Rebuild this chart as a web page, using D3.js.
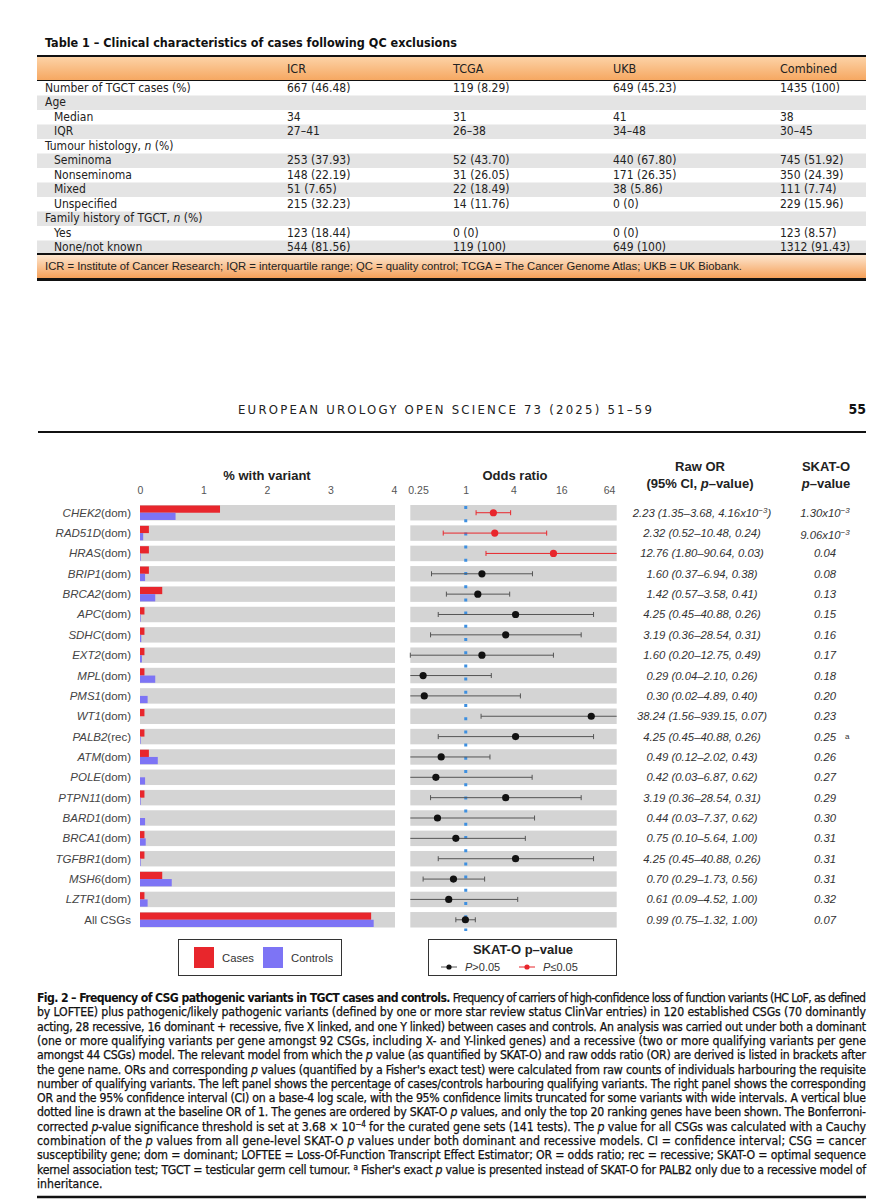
<!DOCTYPE html>
<html><head><meta charset="utf-8">
<script src="https://cdn.jsdelivr.net/npm/d3@7"></script>
<style>body{margin:0;background:#fff}svg{display:block}</style>
</head><body><svg id="c" width="894" height="1200"></svg>
<script>
// ---------- Table data ----------
const tableTitle = "Table 1 – Clinical characteristics of cases following QC exclusions";
const tableColumns = ["ICR", "TCGA", "UKB", "Combined"];
const tableRowLabels = ["Number of TGCT cases (%)", "Age", "Median", "IQR", "Tumour histology, *n* (%)", "Seminoma", "Nonseminoma", "Mixed", "Unspecified", "Family history of TGCT, *n* (%)", "Yes", "None/not known"];
const tableRowIndent = [0, 0, 1, 1, 0, 1, 1, 1, 1, 0, 1, 1];
const tableICR = ["667 (46.48)", "", "34", "27–41", "", "253 (37.93)", "148 (22.19)", "51 (7.65)", "215 (32.23)", "", "123 (18.44)", "544 (81.56)"];
const tableTCGA = ["119 (8.29)", "", "31", "26–38", "", "52 (43.70)", "31 (26.05)", "22 (18.49)", "14 (11.76)", "", "0 (0)", "119 (100)"];
const tableUKB = ["649 (45.23)", "", "41", "34–48", "", "440 (67.80)", "171 (26.35)", "38 (5.86)", "0 (0)", "", "0 (0)", "649 (100)"];
const tableCombined = ["1435 (100)", "", "38", "30–45", "", "745 (51.92)", "350 (24.39)", "111 (7.74)", "229 (15.96)", "", "123 (8.57)", "1312 (91.43)"];
const tableFooter = "ICR = Institute of Cancer Research; IQR = interquartile range; QC = quality control; TCGA = The Cancer Genome Atlas; UKB = UK Biobank.";

// ---------- Figure data ----------
const genes = ["CHEK2", "RAD51D", "HRAS", "BRIP1", "BRCA2", "APC", "SDHC", "EXT2", "MPL", "PMS1", "WT1", "PALB2", "ATM", "POLE", "PTPN11", "BARD1", "BRCA1", "TGFBR1", "MSH6", "LZTR1", "All CSGs"];
const models = ["dom", "dom", "dom", "dom", "dom", "dom", "dom", "dom", "dom", "dom", "dom", "rec", "dom", "dom", "dom", "dom", "dom", "dom", "dom", "dom", ""];
const casesPct = [1.26, 0.14, 0.14, 0.14, 0.35, 0.07, 0.07, 0.07, 0.07, 0, 0.07, 0.07, 0.14, 0, 0.07, 0, 0.07, 0.07, 0.35, 0.07, 3.64];
const controlsPct = [0.56, 0.05, 0.01, 0.08, 0.24, 0.01, 0.02, 0.03, 0.24, 0.12, 0, 0.01, 0.28, 0.08, 0.01, 0.08, 0.09, 0.01, 0.50, 0.12, 3.68];
const oddsRatio = [2.23, 2.32, 12.76, 1.60, 1.42, 4.25, 3.19, 1.60, 0.29, 0.30, 38.24, 4.25, 0.49, 0.42, 3.19, 0.44, 0.75, 4.25, 0.70, 0.61, 0.99];
const ciLow = [1.35, 0.52, 1.80, 0.37, 0.57, 0.45, 0.36, 0.20, 0.04, 0.02, 1.56, 0.45, 0.12, 0.03, 0.36, 0.03, 0.10, 0.45, 0.29, 0.09, 0.75];
const ciHigh = [3.68, 10.48, 90.64, 6.94, 3.58, 40.88, 28.54, 12.75, 2.10, 4.89, 939.15, 40.88, 2.02, 6.87, 28.54, 7.37, 5.64, 40.88, 1.73, 4.52, 1.32];
const fisherP = [4.16e-3, 0.24, 0.03, 0.38, 0.41, 0.26, 0.31, 0.49, 0.26, 0.40, 0.07, 0.26, 0.43, 0.62, 0.31, 0.62, 1.00, 0.26, 0.56, 1.00, 1.00];
const skatoP = [1.30e-3, 9.06e-3, 0.04, 0.08, 0.13, 0.15, 0.16, 0.17, 0.18, 0.20, 0.23, 0.25, 0.26, 0.27, 0.29, 0.30, 0.31, 0.31, 0.31, 0.32, 0.07];
const skatoNote = ["", "", "", "", "", "", "", "", "", "", "", "a", "", "", "", "", "", "", "", "", ""];
const pctTicks = [0, 1, 2, 3, 4];
const orTicks = [0.25, 1, 4, 16, 64];

const captionLines = [
 "**Fig. 2 – Frequency of CSG pathogenic variants in TGCT cases and controls.** Frequency of carriers of high-confidence loss of function variants (HC LoF, as defined",
 "by LOFTEE) plus pathogenic/likely pathogenic variants (defined by one or more star review status ClinVar entries) in 120 established CSGs (70 dominantly",
 "acting, 28 recessive, 16 dominant + recessive, five X linked, and one Y linked) between cases and controls. An analysis was carried out under both a dominant",
 "(one or more qualifying variants per gene amongst 92 CSGs, including X- and Y-linked genes) and a recessive (two or more qualifying variants per gene",
 "amongst 44 CSGs) model. The relevant model from which the *p* value (as quantified by SKAT-O) and raw odds ratio (OR) are derived is listed in brackets after",
 "the gene name. ORs and corresponding *p* values (quantified by a Fisher's exact test) were calculated from raw counts of individuals harbouring the requisite",
 "number of qualifying variants. The left panel shows the percentage of cases/controls harbouring qualifying variants. The right panel shows the corresponding",
 "OR and the 95% confidence interval (CI) on a base-4 log scale, with the 95% confidence limits truncated for some variants with wide intervals. A vertical blue",
 "dotted line is drawn at the baseline OR of 1. The genes are ordered by SKAT-O *p* values, and only the top 20 ranking genes have been shown. The Bonferroni-",
 "corrected *p*-value significance threshold is set at 3.68 × 10^−4^ for the curated gene sets (141 tests). The *p* value for all CSGs was calculated with a Cauchy",
 "combination of the *p* values from all gene-level SKAT-O *p* values under both dominant and recessive models. CI = confidence interval; CSG = cancer",
 "susceptibility gene; dom = dominant; LOFTEE = Loss-Of-Function Transcript Effect Estimator; OR = odds ratio; rec = recessive; SKAT-O = optimal sequence",
 "kernel association test; TGCT = testicular germ cell tumour. ^a^ Fisher's exact *p* value is presented instead of SKAT-O for PALB2 only due to a recessive model of",
 "inheritance."
];

// ---------- helpers ----------
const NARROW = "'Liberation Sans Narrow','DejaVu Sans Condensed','Roboto Condensed','Liberation Sans',sans-serif";
const SANS = "'Liberation Sans',Arial,Helvetica,sans-serif";
const svg = d3.select("#c");
svg.append("rect").attr("width", 894).attr("height", 1200).attr("fill", "#fff");

function rich(textSel, s, supSize) {
  const parts = s.split(/(\*\*[^*]+\*\*|\*[^*]+\*|\^[^^]+\^)/).filter(p => p.length);
  let raised = false;
  parts.forEach(p => {
    const t = textSel.append("tspan");
    if (p.startsWith("**")) { t.text(p.slice(2, -2)).attr("font-weight", "bold").attr("stroke", "none"); }
    else if (p.startsWith("*")) { t.text(p.slice(1, -1)).attr("font-style", "italic"); }
    else if (p.startsWith("^")) { t.text(p.slice(1, -1)).attr("font-size", supSize).attr("dy", -4); raised = true; return; }
    else { t.text(p); }
    if (raised) { t.attr("dy", 4); raised = false; }
  });
}

// ---------- Table ----------
const tL = 37, tR = 866;
const defs = svg.append("defs");
const g1 = defs.append("linearGradient").attr("id", "hdr").attr("x1", 0).attr("y1", 0).attr("x2", 0).attr("y2", 1);
g1.append("stop").attr("offset", "0%").attr("stop-color", "#fcd2a6");
g1.append("stop").attr("offset", "100%").attr("stop-color", "#f6a862");
const g2 = defs.append("linearGradient").attr("id", "ftr").attr("x1", 0).attr("y1", 0).attr("x2", 0).attr("y2", 1);
g2.append("stop").attr("offset", "0%").attr("stop-color", "#fde6cf");
g2.append("stop").attr("offset", "100%").attr("stop-color", "#f5a059");

svg.append("text").attr("x", 45).attr("y", 47).attr("font-family", NARROW).attr("font-weight", "bold")
  .attr("font-size", 12.5).attr("fill", "#111").text(tableTitle);
svg.append("rect").attr("x", tL).attr("y", 57).attr("width", tR - tL).attr("height", 23).attr("fill", "url(#hdr)");
svg.append("line").attr("x1", tL).attr("x2", tR).attr("y1", 56).attr("y2", 56).attr("stroke", "#111").attr("stroke-width", 2.2);
svg.append("line").attr("x1", tL).attr("x2", tR).attr("y1", 80.5).attr("y2", 80.5).attr("stroke", "#111").attr("stroke-width", 1.2);
const colX = [287, 453, 613, 780];
tableColumns.forEach((c, i) => svg.append("text").attr("x", colX[i]).attr("y", 73).attr("font-family", NARROW)
  .attr("font-size", 12.5).attr("fill", "#222").text(c));
const rowH = 14.5, row0 = 81;
const colData = [tableICR, tableTCGA, tableUKB, tableCombined];
tableRowLabels.forEach((lab, i) => {
  const y = row0 + i * rowH;
  if (i % 2 === 1) svg.append("rect").attr("x", tL).attr("y", y).attr("width", tR - tL).attr("height", rowH).attr("fill", "#e4e4e4");
  const t = svg.append("text").attr("x", 45 + tableRowIndent[i] * 9).attr("y", y + 10.8).attr("font-family", NARROW)
    .attr("font-size", 12).attr("fill", "#222");
  rich(t, lab, 8);
  colData.forEach((col, j) => svg.append("text").attr("x", colX[j]).attr("y", y + 10.8).attr("font-family", NARROW)
    .attr("font-size", 12).attr("fill", "#222").text(col[i]));
});
svg.append("line").attr("x1", tL).attr("x2", tR).attr("y1", 254).attr("y2", 254).attr("stroke", "#111").attr("stroke-width", 2);
svg.append("rect").attr("x", tL).attr("y", 255).attr("width", tR - tL).attr("height", 23).attr("fill", "url(#ftr)");
svg.append("line").attr("x1", tL).attr("x2", tR).attr("y1", 279.5).attr("y2", 279.5).attr("stroke", "#111").attr("stroke-width", 3);
svg.append("text").attr("x", 45).attr("y", 270).attr("font-family", SANS).attr("font-size", 10.6).attr("fill", "#222")
  .attr("textLength", 697).attr("lengthAdjust", "spacingAndGlyphs").text(tableFooter);

// ---------- Page header ----------
svg.append("text").attr("x", 238).attr("y", 414).attr("font-family", NARROW).attr("font-size", 13).attr("fill", "#222")
  .attr("textLength", 414).attr("lengthAdjust", "spacing").text("EUROPEAN UROLOGY OPEN SCIENCE 73 (2025) 51–59");
svg.append("text").attr("x", 866).attr("y", 414).attr("text-anchor", "end").attr("font-family", NARROW)
  .attr("font-weight", "bold").attr("font-size", 14).attr("fill", "#111").text("55");
svg.append("line").attr("x1", 38).attr("x2", 866).attr("y1", 432).attr("y2", 432).attr("stroke", "#111").attr("stroke-width", 2);

// ---------- Figure ----------
const y = d3.scaleBand().domain(genes).range([505, 927.5]).paddingInner(0.24).paddingOuter(0);
const xPct = d3.scaleLinear().domain([0, 4]).range([140, 394]);
const xOR = d3.scaleLog().base(4).domain([0.25, 64]).range([418, 609]);
const orMin = 0.2, orMax = 80;
const txt = "#333";
const red = "#e8262c", blue = "#7d74f5", band = "#d4d4d4";

// left panel
svg.append("text").attr("x", 267).attr("y", 480).attr("text-anchor", "middle").attr("font-family", SANS)
  .attr("font-weight", "bold").attr("font-size", 13).attr("fill", "#222").text("% with variant");
const axL = d3.axisTop(xPct).tickValues(pctTicks).tickSize(0).tickFormat(d3.format("d"));
const gAxL = svg.append("g").attr("transform", "translate(0,494)").call(axL);
gAxL.select(".domain").remove();
gAxL.selectAll("text").attr("font-family", SANS).attr("font-size", 10.5).attr("fill", "#555").attr("dy", 0).attr("y", 0);

const rows = genes.map((g, i) => ({ g, i }));
svg.append("g").selectAll("rect").data(rows).join("rect")
  .attr("x", xPct(0)).attr("y", d => y(d.g)).attr("width", xPct(4) - xPct(0) + 1).attr("height", y.bandwidth()).attr("fill", band);
const half = y.bandwidth() / 2;
svg.append("g").selectAll("rect").data(rows).join("rect")
  .attr("x", xPct(0)).attr("y", d => y(d.g) + 0.5).attr("width", d => xPct(casesPct[d.i]) - xPct(0)).attr("height", half - 0.5).attr("fill", red);
svg.append("g").selectAll("rect").data(rows).join("rect")
  .attr("x", xPct(0)).attr("y", d => y(d.g) + half).attr("width", d => xPct(controlsPct[d.i]) - xPct(0)).attr("height", half - 0.5).attr("fill", blue);

// gene labels
rows.forEach(d => {
  const t = svg.append("text").attr("x", 131).attr("y", y(d.g) + half + 4).attr("text-anchor", "end")
    .attr("font-family", SANS).attr("font-size", 11.5).attr("fill", "#444");
  if (models[d.i]) { t.append("tspan").attr("font-style", "italic").text(d.g); t.append("tspan").text("(" + models[d.i] + ")"); }
  else t.text(d.g);
});

// right panel
svg.append("text").attr("x", 515).attr("y", 480).attr("text-anchor", "middle").attr("font-family", SANS)
  .attr("font-weight", "bold").attr("font-size", 13).attr("fill", "#222").text("Odds ratio");
const axR = d3.axisTop(xOR).tickValues(orTicks).tickSize(0).tickFormat(d => d === 0.25 ? "0.25" : d3.format("d")(d));
const gAxR = svg.append("g").attr("transform", "translate(0,494)").call(axR);
gAxR.select(".domain").remove();
gAxR.selectAll("text").attr("font-family", SANS).attr("font-size", 10.5).attr("fill", "#555").attr("dy", 0).attr("y", 0);

svg.append("g").selectAll("rect").data(rows).join("rect")
  .attr("x", xOR(orMin)).attr("y", d => y(d.g)).attr("width", xOR(orMax) - xOR(orMin)).attr("height", y.bandwidth()).attr("fill", band);
// baseline OR = 1
svg.append("line").attr("x1", xOR(1)).attr("x2", xOR(1)).attr("y1", 506).attr("y2", 931)
  .attr("stroke", "#3d8fe0").attr("stroke-width", 3).attr("stroke-dasharray", "3 10.2");

const clip = v => Math.max(orMin, Math.min(orMax, v));
const gCI = svg.append("g");
rows.forEach(d => {
  const cy = y(d.g) + half;
  const col = skatoP[d.i] <= 0.05 ? red : "#111";
  const lc = skatoP[d.i] <= 0.05 ? red : "#555";
  const lo = clip(ciLow[d.i]), hi = clip(ciHigh[d.i]);
  gCI.append("line").attr("x1", xOR(lo)).attr("x2", xOR(hi)).attr("y1", cy).attr("y2", cy).attr("stroke", lc).attr("stroke-width", 1);
  if (ciLow[d.i] >= orMin) gCI.append("line").attr("x1", xOR(lo)).attr("x2", xOR(lo)).attr("y1", cy - 2.5).attr("y2", cy + 2.5).attr("stroke", lc);
  if (ciHigh[d.i] <= orMax) gCI.append("line").attr("x1", xOR(hi)).attr("x2", xOR(hi)).attr("y1", cy - 2.5).attr("y2", cy + 2.5).attr("stroke", lc);
  gCI.append("circle").attr("cx", xOR(oddsRatio[d.i])).attr("cy", cy).attr("r", 3.6).attr("fill", col);
});

// text columns
function fmtP(p) {
  if (p < 0.01) {
    const e = Math.floor(Math.log10(p));
    return (p / Math.pow(10, e)).toFixed(2) + "x10^" + "−" + (-e) + "^";
  }
  return p.toFixed(2);
}
svg.append("text").attr("x", 700).attr("y", 471).attr("text-anchor", "middle").attr("font-family", SANS)
  .attr("font-weight", "bold").attr("font-size", 13).attr("fill", "#222").text("Raw OR");
const h2 = svg.append("text").attr("x", 700).attr("y", 488).attr("text-anchor", "middle").attr("font-family", SANS)
  .attr("font-weight", "bold").attr("font-size", 13).attr("fill", "#222");
rich(h2, "(95% CI, *p*–value)", 9);
svg.append("text").attr("x", 826).attr("y", 471).attr("text-anchor", "middle").attr("font-family", SANS)
  .attr("font-weight", "bold").attr("font-size", 13).attr("fill", "#222").text("SKAT-O");
const h3 = svg.append("text").attr("x", 826).attr("y", 488).attr("text-anchor", "middle").attr("font-family", SANS)
  .attr("font-weight", "bold").attr("font-size", 13).attr("fill", "#222");
rich(h3, "*p*–value", 9);

const f2 = d3.format(".2f");
rows.forEach(d => {
  const cy = y(d.g) + half + 4;
  const s = f2(oddsRatio[d.i]) + " (" + f2(ciLow[d.i]) + "–" + f2(ciHigh[d.i]) + ", " + fmtP(fisherP[d.i]) + ")";
  const t = svg.append("text").attr("x", 702).attr("y", cy).attr("text-anchor", "middle").attr("font-family", SANS)
    .attr("font-style", "italic").attr("font-size", 11.3).attr("fill", txt);
  rich(t, s, 8);
  const t2 = svg.append("text").attr("x", 825).attr("y", cy + (skatoP[d.i] < 0.01 && d.i > 0 ? 2 : 0)).attr("text-anchor", "middle").attr("font-family", SANS)
    .attr("font-style", "italic").attr("font-size", 11.3).attr("fill", txt);
  rich(t2, fmtP(skatoP[d.i]), 8);
  if (skatoNote[d.i]) svg.append("text").attr("x", 845).attr("y", cy - 2).attr("font-family", SANS)
    .attr("font-size", 8).attr("fill", txt).text(skatoNote[d.i]);
});

// legends
const lg1 = svg.append("g");
lg1.append("rect").attr("x", 178.5).attr("y", 939.5).attr("width", 163).attr("height", 36).attr("fill", "#fff").attr("stroke", "#333").attr("stroke-width", 1);
lg1.append("rect").attr("x", 194).attr("y", 947).attr("width", 20).attr("height", 21).attr("fill", red);
lg1.append("text").attr("x", 222).attr("y", 962).attr("font-family", SANS).attr("font-size", 11.3).attr("fill", "#333").text("Cases");
lg1.append("rect").attr("x", 263).attr("y", 947).attr("width", 20).attr("height", 21).attr("fill", blue);
lg1.append("text").attr("x", 291).attr("y", 962).attr("font-family", SANS).attr("font-size", 11.3).attr("fill", "#333").text("Controls");

const lg2 = svg.append("g");
lg2.append("rect").attr("x", 428.5).attr("y", 939.5).attr("width", 188).attr("height", 36).attr("fill", "#fff").attr("stroke", "#333").attr("stroke-width", 1);
lg2.append("text").attr("x", 523).attr("y", 954).attr("text-anchor", "middle").attr("font-family", SANS)
  .attr("font-weight", "bold").attr("font-size", 13).attr("fill", "#222").text("SKAT-O p–value");
[[441, "#111", "#555", "P", ">0.05"], [519, red, red, "P", "≤0.05"]].forEach(([x0, c, lc, a, b]) => {
  lg2.append("line").attr("x1", x0).attr("x2", x0 + 16).attr("y1", 967).attr("y2", 967).attr("stroke", lc);
  lg2.append("circle").attr("cx", x0 + 8).attr("cy", 967).attr("r", 2.6).attr("fill", c);
  const t = lg2.append("text").attr("x", x0 + 24).attr("y", 971).attr("font-family", SANS).attr("font-size", 11).attr("fill", "#333");
  t.append("tspan").attr("font-style", "italic").text(a); t.append("tspan").text(b);
});

// ---------- Caption ----------
captionLines.forEach((line, i) => {
  const t = svg.append("text").attr("x", 37).attr("y", 1002 + i * 14.3).attr("font-family", NARROW)
    .attr("font-size", 12.2).attr("fill", "#111").attr("stroke", "#111").attr("stroke-width", 0.25);
  if (i < captionLines.length - 1) t.attr("textLength", 829).attr("lengthAdjust", "spacing");
  rich(t, line, 8);
});
svg.append("line").attr("x1", 37).attr("x2", 866).attr("y1", 1197).attr("y2", 1197).attr("stroke", "#111").attr("stroke-width", 2.5);
</script></body></html>
